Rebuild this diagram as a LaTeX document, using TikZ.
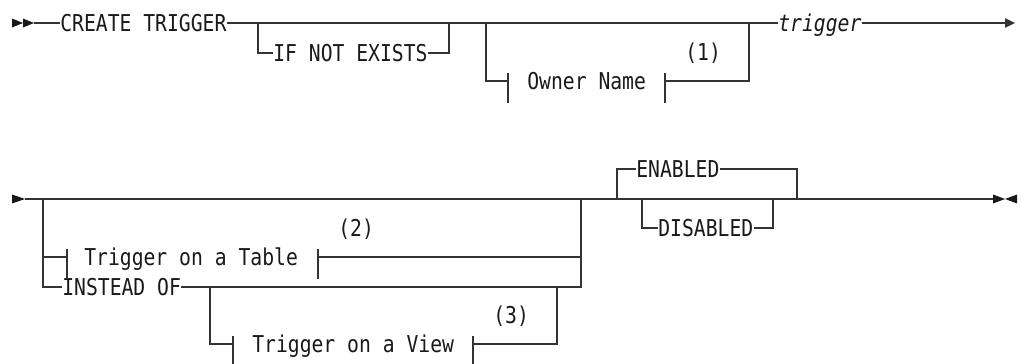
\documentclass[tikz,border=0pt]{standalone}
\usepackage{fontspec}
\setmonofont[FakeStretch=0.85]{DejaVu Sans Mono}
\usetikzlibrary{arrows.meta}

\begin{document}
\begin{tikzpicture}[x=0.75pt, y=-0.75pt,
        rail/.style={draw=black!80, line width=0.9pt},
        kw/.style={font=\ttfamily\fontsize{17.4}{19}\selectfont, text=black!90,
            inner sep=0pt, text height=12.2pt, text depth=0pt, anchor=west}]

        \useasboundingbox (0,0) rectangle (1021,364);

        % Start and end markers
        \fill[black!90] (12,18.5) -- (23,23) -- (12,27.5) -- cycle;
        \fill[black!90] (23,18.5) -- (34,23) -- (23,27.5) -- cycle;
        \fill[black!90] (12,194.5) -- (25,199) -- (12,203.5) -- cycle;
        \fill[black!90] (993,194.5) -- (1005,199) -- (993,203.5) -- cycle;
        \fill[black!90] (1017,194.5) -- (1005,199) -- (1017,203.5) -- cycle;

        % First row
        \coordinate (s1) at (34,23);
        \node[kw] (create) at (60,23) {CREATE TRIGGER};
        \coordinate (j1) at (258,23);
        \coordinate (j2) at (449,23);
        \node[kw] (ifne) at (273,53) {IF NOT EXISTS};
        \coordinate (j3) at (486,23);
        \coordinate (j4) at (749,23);
        \coordinate (own1) at (508,81);
        \node[kw] (owner) at (527,81) {Owner Name};
        \coordinate (own2) at (665,81);
        \node[kw] (n1) at (685,52) {(1)};
        \node[kw, font=\ttfamily\itshape\fontsize{17.4}{19}\selectfont] (trig) at (778,23) {trigger};
        \coordinate (e1) at (1015,23);

        \draw[rail] (s1) -- (create.west);
        \draw[rail] (create.east) -- (trig.west);
        \draw[rail] (j1) |- (ifne.west);
        \draw[rail] (ifne.east) -| (j2);
        \draw[rail] (j3) |- (own1);
        \draw[rail] (own2) -| (j4);
        \foreach \t in {own1,own2} {
            \draw[rail] (\t) ++(0,-8) -- ++(0,30);
        }
        \draw[rail, -{Triangle[length=7.5pt, width=7pt]}] (trig.east) -- (e1);

        % Second row
        \coordinate (s2) at (25,199);
        \coordinate (k1) at (43,199);
        \coordinate (tab1) at (67,257);
        \node[kw] (table) at (84,257) {Trigger on a Table};
        \coordinate (tab2) at (318,257);
        \node[kw] (n2) at (338,228) {(2)};
        \coordinate (k2) at (581,199);
        \node[kw] (instead) at (62,287) {INSTEAD OF};
        \coordinate (k3) at (210,287);
        \coordinate (view1) at (233,344);
        \node[kw] (view) at (252,344) {Trigger on a View};
        \coordinate (view2) at (473,344);
        \coordinate (k4) at (557,287);
        \node[kw] (n3) at (493,315) {(3)};
        \coordinate (k5) at (617,199);
        \node[kw] (enabled) at (636,169) {ENABLED};
        \coordinate (k6) at (797,199);
        \coordinate (k7) at (642,199);
        \node[kw] (disabled) at (658,228) {DISABLED};
        \coordinate (k8) at (773,199);
        \coordinate (e2) at (993,199);

        \draw[rail] (s2) -- (e2);
        \draw[rail] (k1) |- (tab1);
        \draw[rail] (tab2) -| (k2);
        \draw[rail] (k1) |- (instead.west);
        \draw[rail] (instead.east) -| (k2);
        \draw[rail] (k3) |- (view1);
        \draw[rail] (view2) -| (k4);
        \foreach \t in {tab1,tab2,view1,view2} {
            \draw[rail] (\t) ++(0,-8) -- ++(0,30);
        }
        \draw[rail] (k5) |- (enabled.west);
        \draw[rail] (enabled.east) -| (k6);
        \draw[rail] (k7) |- (disabled.west);
        \draw[rail] (disabled.east) -| (k8);

    \end{tikzpicture}
\end{document}
